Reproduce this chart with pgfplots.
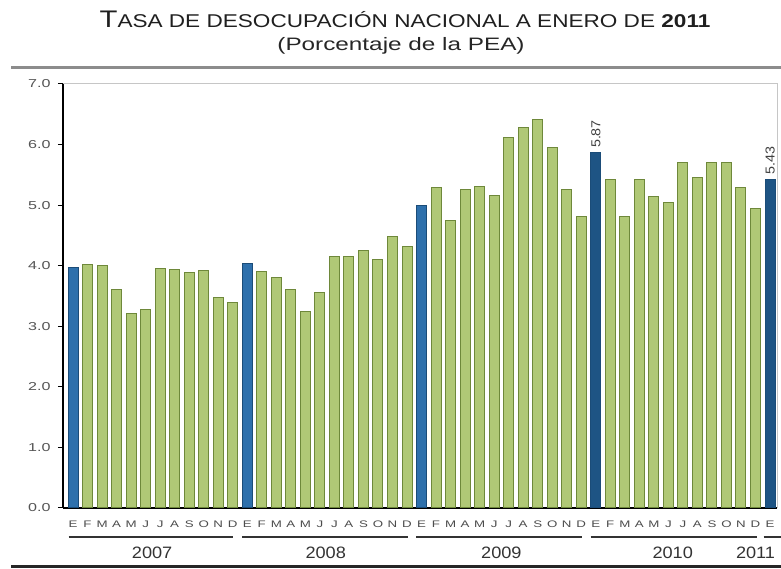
\documentclass[border=0pt]{standalone}
\usepackage{pgfplots}
\pgfplotsset{compat=1.18}
\usepackage{fontspec}
\setmainfont{Liberation Sans}
\newfontfamily\titlefont{Liberation Sans}[FakeStretch=1.22]
\newfontfamily\subfont{Liberation Sans}[FakeStretch=1.35]
\newfontfamily\tickfont{Liberation Sans}[FakeStretch=1.4]
\newfontfamily\yearfont{Liberation Sans}[FakeStretch=1.1]

\definecolor{barGreen}{RGB}{176,200,118}
\definecolor{edgeGreen}{RGB}{110,136,58}
\definecolor{barBlue}{RGB}{46,112,172}
\definecolor{edgeBlue}{RGB}{27,76,120}
\definecolor{barBlueDk}{RGB}{30,84,132}
\definecolor{labGray}{RGB}{85,85,85}

\begin{document}
\begin{tikzpicture}
\useasboundingbox (0,0) rectangle (781pt,569pt);

% title block
\node[anchor=base, text=black!88] at (405pt,541pt) {\titlefont
  {\fontsize{24pt}{26pt}\selectfont T}{\fontsize{18.5pt}{20pt}\selectfont ASA DE DESOCUPACIÓN NACIONAL A ENERO DE \textbf{2011}}};
\node[anchor=base, text=black!85] at (401pt,518pt) {\subfont\fontsize{18pt}{20pt}\selectfont (Porcentaje de la PEA)};
\draw[line width=3pt, gray!90] (11pt,501pt) -- (781pt,501pt);
\draw[line width=3pt, black!85] (11pt,2pt) -- (781pt,2pt);

\begin{axis}[
    at={(63pt,61pt)}, anchor=south west,
    scale only axis,
    width=714pt, height=424pt,
    xmin=-0.69, xmax=48.48,
    ymin=0, ymax=7,
    axis x line*=bottom, axis y line*=left,
    axis line style={line width=1.3pt, black},
    ytick={0,1,...,7},
    yticklabel style={/pgf/number format/fixed, /pgf/number format/fixed zerofill,
      /pgf/number format/precision=1, /pgf/number format/assume math mode=true},
    yticklabel style={font=\tickfont\fontsize{11.5pt}{12pt}\selectfont, text=labGray, xshift=-4pt},
    ytick style={black, line width=1pt},
    tick align=outside,
    major tick length=5pt,
    xtick={0,1,...,48},
    xticklabels={E,F,M,A,M,J,J,A,S,O,N,D,E,F,M,A,M,J,J,A,S,O,N,D,E,F,M,A,M,J,J,A,S,O,N,D,E,F,M,A,M,J,J,A,S,O,N,D,E},
    xticklabel style={font=\tickfont\fontsize{9.5pt}{10pt}\selectfont, text=black!70, yshift=-4pt},
    xtick style={draw=none},
    extra x ticks={11.5,23.5,35.5,47.5},
    extra x tick labels={},
    extra x tick style={tick style={draw=black, line width=1pt}},
    clip=false,
    ybar, bar width=10pt,
]
\addplot[bar shift=0pt, fill=barGreen, draw=edgeGreen, line width=1pt] coordinates {
  (1,4.02) (2,4.00) (3,3.60) (4,3.21) (5,3.27) (6,3.96) (7,3.93) (8,3.88) (9,3.92) (10,3.47) (11,3.40)
  (13,3.91) (14,3.81) (15,3.61) (16,3.25) (17,3.55) (18,4.16) (19,4.16) (20,4.25) (21,4.11) (22,4.48) (23,4.31)
  (25,5.29) (26,4.75) (27,5.26) (28,5.31) (29,5.16) (30,6.12) (31,6.28) (32,6.41) (33,5.95) (34,5.26) (35,4.81)
  (37,5.43) (38,4.82) (39,5.42) (40,5.14) (41,5.05) (42,5.70) (43,5.45) (44,5.70) (45,5.70) (46,5.29) (47,4.94)
};
\addplot[bar shift=0pt, fill=barBlue, draw=edgeBlue, line width=1pt] coordinates {
  (0,3.97) (12,4.04) (24,5.00)
};
\addplot[bar shift=0pt, fill=barBlueDk, draw=edgeBlue, line width=1pt,
    point meta=y,
    nodes near coords={\pgfmathprintnumber[fixed,fixed zerofill,precision=2,assume math mode=true]{\pgfplotspointmeta}},
    nodes near coords style={rotate=90, anchor=west, text=black!75, font=\yearfont\fontsize{13pt}{14pt}\selectfont, inner sep=4pt}] coordinates {
  (36,5.87) (48,5.43)
};

% plot box, top and right
\draw[gray!45, line width=1pt] (rel axis cs:0,1) -- (rel axis cs:1,1) -- (rel axis cs:1,0);

% year groups
\draw[line width=1.8pt, black!80] (axis cs:-0.3,-0.479) -- (axis cs:11.05,-0.479);
\draw[line width=1.8pt, black!80] (axis cs:11.65,-0.479) -- (axis cs:23.05,-0.479);
\draw[line width=1.8pt, black!80] (axis cs:23.65,-0.479) -- (axis cs:35.05,-0.479);
\draw[line width=1.8pt, black!80] (axis cs:35.65,-0.479) -- (axis cs:47.1,-0.479);
\draw[line width=1.8pt, black!80] (axis cs:47.55,-0.479) -- (axis cs:48.9,-0.479);
\node[font=\yearfont\fontsize{16.5pt}{18pt}\selectfont, text=black!80] at (axis cs:5.45,-0.743) {2007};
\node[font=\yearfont\fontsize{16.5pt}{18pt}\selectfont, text=black!80] at (axis cs:17.4,-0.743) {2008};
\node[font=\yearfont\fontsize{16.5pt}{18pt}\selectfont, text=black!80] at (axis cs:29.5,-0.743) {2009};
\node[font=\yearfont\fontsize{16.5pt}{18pt}\selectfont, text=black!80] at (axis cs:41.3,-0.743) {2010};
\node[font=\yearfont\fontsize{16.5pt}{18pt}\selectfont, text=black!80] at (axis cs:47.0,-0.743) {2011};
\end{axis}
\end{tikzpicture}
\end{document}
